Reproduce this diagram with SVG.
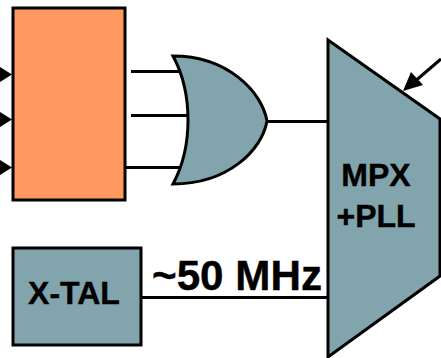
<svg xmlns="http://www.w3.org/2000/svg" width="441" height="358" viewBox="0 0 441 358">
<style>
.n{stroke:#000;stroke-width:3;fill:#82a4ad;stroke-linejoin:miter}
.w{stroke:#000;stroke-width:3;fill:none}
text{font-family:"Liberation Sans",Arial,sans-serif;font-weight:bold;fill:#000;stroke:#000;stroke-width:.4}
</style>
<rect width="441" height="358" fill="#fff"/>
<g id="connectors">
<path class="w" d="M131 71.500H180M131 115.500H190M126 167.500H180M266 121.500H328M142 297.500H328M434 190.500H441"/>
<path class="w" d="M441 59L413 83"/>
<polygon points="403,91 411,72 423,85" fill="#000"/>
<polygon points="0,67 12,74.500 0,82" fill="#000"/>
<polygon points="0,112 12,119.500 0,127" fill="#000"/>
<polygon points="0,160 12,167.500 0,175" fill="#000"/>
</g>
<g id="block"><rect x="13" y="8" width="112" height="192" fill="#ff9960" stroke="#000" stroke-width="3"/></g>
<g id="or-gate"><path class="n" d="M173 56C228 56 262 92 267 121C262 150 228 184 173 184C193 147 193 93 173 56Z"/></g>
<g id="mpx"><path class="n" d="M328 40L440 119V276L328 357Z"/><text x="376" y="186" font-size="32" text-anchor="middle">MPX</text><text x="376" y="227" font-size="32" text-anchor="middle">+PLL</text></g>
<g id="xtal"><rect class="n" x="13" y="248" width="128" height="97"/><text x="74" y="304" font-size="32" text-anchor="middle">X-TAL</text></g>
<g id="freq"><text x="237" y="290" font-size="43" text-anchor="middle" textLength="170" lengthAdjust="spacingAndGlyphs">~50 MHz</text></g>
</svg>
